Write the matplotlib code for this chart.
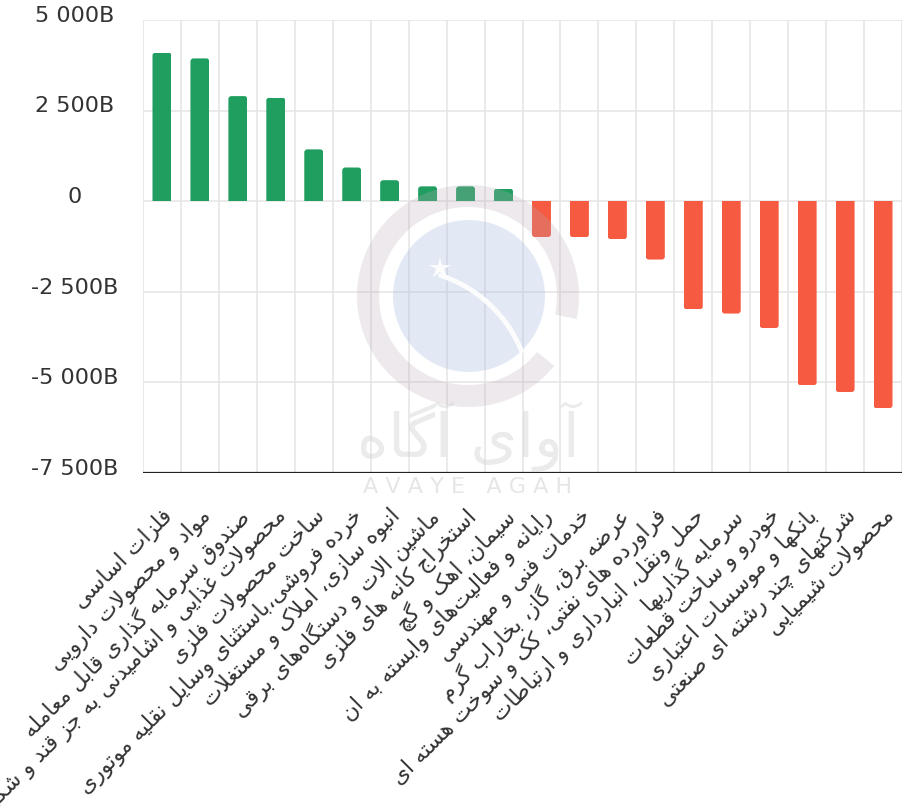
import matplotlib
matplotlib.use('Agg')
import matplotlib.pyplot as plt
from matplotlib.patches import FancyBboxPatch, Wedge, Circle
import matplotlib.transforms as mtransforms
import numpy as np

## DATA (billions)
labels = [
    'فلزات اساسی',
    'مواد و محصولات دارویی',
    'صندوق سرمایه گذاری قابل معامله',
    'محصولات غذایی و اشامیدنی به جز قند و شکر',
    'ساخت محصولات فلزی',
    'خرده فروشی،باستثنای وسایل نقلیه موتوری',
    'انبوه سازی، املاک و مستغلات',
    'ماشین الات و دستگاه\u200cهای برقی',
    'استخراج کانه های فلزی',
    'سیمان، اهک و گچ',
    'رایانه و فعالیت\u200cهای وابسته به ان',
    'خدمات فنی و مهندسی',
    'عرضه برق، گاز، بخاراب گرم',
    'فراورده های نفتی، کک و سوخت هسته ای',
    'حمل ونقل، انبارداری و ارتباطات',
    'سرمایه گذاریها',
    'خودرو و ساخت قطعات',
    'بانکها و موسسات اعتباری',
    'شرکتهای چند رشته ای صنعتی',
    'محصولات شیمیایی',
]
values = [4100, 3940, 2900, 2860, 1430, 930, 580, 410, 410, 350,
          -990, -995, -1050, -1610, -2985, -3100, -3500, -5080, -5265, -5710]
yticks = [-7500, -5000, -2500, 0, 2500, 5000]


# minimal arabic/persian shaping, matplotlib does no shaping or bidi
FORMS = {
    'ا': 'ﺍﺎ', 'آ': 'ﺁﺂ', 'د': 'ﺩﺪ', 'ذ': 'ﺫﺬ', 'ر': 'ﺭﺮ', 'ز': 'ﺯﺰ',
    'ژ': 'ﮊﮋ', 'و': 'ﻭﻮ',
    'ب': 'ﺏﺐﺑﺒ', 'پ': 'ﭖﭗﭘﭙ', 'ت': 'ﺕﺖﺗﺘ', 'ث': 'ﺙﺚﺛﺜ', 'ج': 'ﺝﺞﺟﺠ',
    'چ': 'ﭺﭻﭼﭽ', 'ح': 'ﺡﺢﺣﺤ', 'خ': 'ﺥﺦﺧﺨ', 'س': 'ﺱﺲﺳﺴ', 'ش': 'ﺵﺶﺷﺸ',
    'ص': 'ﺹﺺﺻﺼ', 'ض': 'ﺽﺾﺿﻀ', 'ط': 'ﻁﻂﻃﻄ', 'ظ': 'ﻅﻆﻇﻈ', 'ع': 'ﻉﻊﻋﻌ',
    'غ': 'ﻍﻎﻏﻐ', 'ف': 'ﻑﻒﻓﻔ', 'ق': 'ﻕﻖﻗﻘ', 'ک': 'ﮎﮏﮐﮑ', 'گ': 'ﮒﮓﮔﮕ',
    'ل': 'ﻝﻞﻟﻠ', 'م': 'ﻡﻢﻣﻤ', 'ن': 'ﻥﻦﻧﻨ', 'ه': 'ﻩﻪﻫﻬ', 'ی': 'ﯼﯽﯾﯿ',
}


def shape(s):
    out = []
    prev = False
    i = 0
    while i < len(s):
        c = s[i]
        if c not in FORMS:
            if c != '\u200c':
                out.append(c)
            prev = False
            i += 1
            continue
        if c == 'ل' and i + 1 < len(s) and s[i + 1] in 'اآ':
            lig = 'ﻻﻼ' if s[i + 1] == 'ا' else 'ﻵﻶ'
            out.append(lig[1] if prev else lig[0])
            prev = False
            i += 2
            continue
        f = FORMS[c]
        nxt = len(f) == 4 and i + 1 < len(s) and s[i + 1] in FORMS
        if prev and nxt:
            g = f[3]
        elif prev:
            g = f[1]
        elif nxt:
            g = f[2]
        else:
            g = f[0]
        out.append(g)
        prev = nxt
        i += 1
    return ''.join(reversed(out))


plt.rcParams['font.family'] = ['DejaVu Sans']
fig = plt.figure(figsize=(9.12, 8.06), dpi=100)
ax = fig.add_axes([143 / 912, 1 - 473 / 806, 759 / 912, 453 / 806])

x = np.arange(len(values))
cols = ['#209e60' if v >= 0 else '#f65a40' for v in values]
bars = ax.bar(x, values, width=0.5, color=cols, zorder=2)

ax.set_xlim(-0.5, len(values) - 0.5)
ax.set_ylim(-7500, 5000)

# rounded ends of the bars
xu = 20 / 759
yu = 12500 / 453
r = 3
for b, v in zip(bars, values):
    b.set_visible(False)
    ext = 3 * r * yu
    if v >= 0:
        y0, h = -ext, v + ext
    else:
        y0, h = v, -v + ext
    p = FancyBboxPatch((b.get_x(), y0), b.get_width(), h,
                       boxstyle='round,pad=0,rounding_size=%f' % (r * xu),
                       mutation_aspect=yu / xu, facecolor=b.get_facecolor(),
                       lw=0, zorder=2)
    ax.add_patch(p)
    p.set_clip_path(b)

# grid
for gx in np.arange(-0.5, len(values), 1):
    ax.axvline(gx, color='#e4e4e4', lw=1.1, zorder=0)
for gy in yticks[1:]:
    ax.axhline(gy, color='#e4e4e4', lw=1.1, zorder=0)
ax.axhline(-7500, color='#222222', lw=1.6, zorder=3)

for s in ax.spines.values():
    s.set_visible(False)

ax.set_yticks(yticks)
ax.set_yticklabels([('%d' % t if t == 0 else '{:,}B'.format(t).replace(',', ' '))
                    for t in yticks], fontsize=16, color='#333333')
ax.tick_params(axis='y', length=0, pad=49)
up = mtransforms.ScaledTranslation(0, 4.5 / 72, fig.dpi_scale_trans)
for t in ax.get_yticklabels():
    t.set_horizontalalignment('center')
    t.set_transform(t.get_transform() + up)

ax.set_xticks(x)
ax.set_xticklabels([shape(l) for l in labels], rotation=45, ha='right',
                   va='top', rotation_mode='anchor', fontsize=15.7,
                   color='#333333')
ax.tick_params(axis='x', length=0, pad=23)

# watermark overlay
wm = fig.add_axes([0, 0, 1, 1], zorder=5)
wm.set_xlim(0, 912)
wm.set_ylim(806, 0)
wm.set_axis_off()
wm.patch.set_alpha(0)
wm.add_patch(Wedge((468, 296), 111, 39, 372, width=22,
                   facecolor='#b9aab9', alpha=0.25, lw=0))
wm.add_patch(Circle((469, 296), 76, facecolor='#a9bfe2', alpha=0.33, lw=0))
th = np.radians(np.linspace(-72, -22, 40))
wm.plot(400 + 131 * np.cos(th), 400 + 131 * np.sin(th), color='white',
        lw=3.5, alpha=0.9, solid_capstyle='round')
wm.plot([440], [268], marker='*', ms=16, color='white', alpha=0.9, mew=0)
wm.text(468, 437, shape('آوای آگاه'), fontsize=43, color='#d0d0d0',
        alpha=0.42, ha='center', va='center')
wm.text(468, 487, 'A V A Y E   A G A H', fontsize=16, color='#c8c8c8',
        alpha=0.45, ha='center', va='center')

fig.savefig('out.png', dpi=100)
